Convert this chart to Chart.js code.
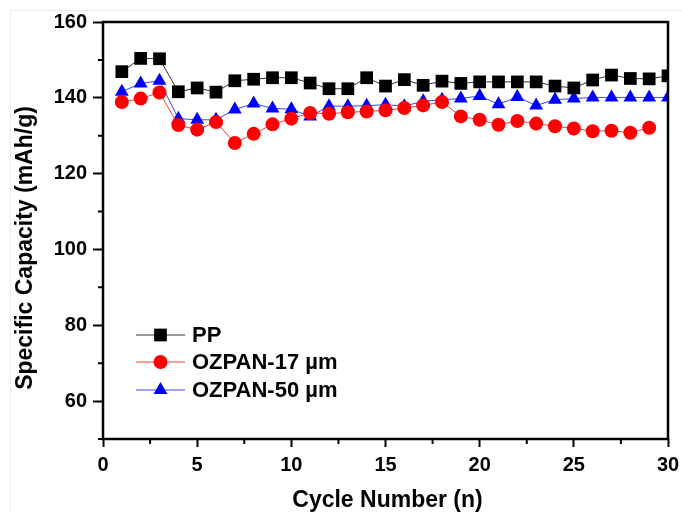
<!DOCTYPE html>
<html lang="en">
  <head>
    <meta charset="UTF-8" />
    <title>Specific Capacity vs Cycle Number</title>
    <script src="https://cdn.jsdelivr.net/npm/chart.js"></script>
    <style>
      html, body { margin: 0; padding: 0; background: #fff; }
      #wrap { position: relative; width: 682px; height: 512px; }
    </style>
  </head>
  <body>
    <div id="wrap"><canvas id="capChart" width="682" height="512"></canvas></div>

    <script>
      // cycle numbers 1..30
      const cycles = [1, 2, 3, 4, 5, 6, 7, 8, 9, 10, 11, 12, 13, 14, 15,
                      16, 17, 18, 19, 20, 21, 22, 23, 24, 25, 26, 27, 28, 29, 30];

      const ppValues = [146.9, 150.4, 150.3, 141.6, 142.6, 141.5, 144.5, 144.9, 145.3, 145.3,
                        143.9, 142.4, 142.4, 145.3, 143.1, 144.8, 143.3, 144.4, 143.8, 144.2,
                        144.2, 144.2, 144.2, 143.1, 142.6, 144.7, 146.0, 145.1, 145.0, 145.8];

      // 17 µm sample has no point at cycle 30
      const ozpan17Values = [138.9, 139.8, 141.4, 132.8, 131.6, 133.6, 128.1, 130.5, 133.0, 134.5,
                             136.0, 135.8, 136.2, 136.4, 136.7, 137.3, 138.0, 138.9, 135.1, 134.2,
                             132.9, 133.9, 133.2, 132.5, 131.9, 131.2, 131.3, 130.8, 132.1, null];

      const ozpan50Values = [141.6, 143.8, 144.5, 134.5, 134.2, 134.2, 136.9, 138.5, 137.2, 137.0,
                             135.1, 137.8, 137.8, 137.9, 138.2, 137.8, 139.1, 139.5, 139.8, 140.5,
                             138.3, 140.2, 138.0, 139.5, 139.8, 140.1, 140.1, 140.1, 140.1, 140.1];

      const seriesNames = ["PP", "OZPAN-17 \u00b5m", "OZPAN-50 \u00b5m"];
      const xTitle = "Cycle Number (n)";
      const yTitle = "Specific Capacity (mAh/g)";

      const FONT = "'Liberation Sans', Arial, sans-serif";

      function toPoints(values) {
        return values.map((v, i) => ({ x: cycles[i], y: v }));
      }

      const isMajorX = (v) => v % 5 === 0;
      const isMajorY = (v) => v % 20 === 0;

      // frame, box, minor ticks, axis titles and legend
      const framePlugin = {
        id: "frame",
        beforeDraw(chart) {
          const c = chart.ctx;
          c.save();
          c.fillStyle = "#fff";
          c.fillRect(0, 0, chart.width, chart.height);
          c.strokeStyle = "#ececec";
          c.lineWidth = 1;
          c.beginPath();
          c.moveTo(10.5, chart.height);
          c.lineTo(10.5, 10.5);
          c.lineTo(chart.width, 10.5);
          c.stroke();
          c.restore();
        },
        afterDraw(chart) {
          const c = chart.ctx;
          const a = chart.chartArea;
          const xs = chart.scales.x, ys = chart.scales.y;
          c.save();
          c.strokeStyle = "#000";
          c.lineWidth = 2.5;
          c.strokeRect(a.left, a.top, a.right - a.left, a.bottom - a.top);

          // short minor ticks
          c.lineWidth = 2;
          c.beginPath();
          xs.ticks.forEach((t) => {
            if (isMajorX(t.value)) return;
            const px = xs.getPixelForValue(t.value);
            c.moveTo(px, a.bottom);
            c.lineTo(px, a.bottom + 5);
          });
          ys.ticks.forEach((t) => {
            if (isMajorY(t.value)) return;
            const py = ys.getPixelForValue(t.value);
            c.moveTo(a.left, py);
            c.lineTo(a.left - 5, py);
          });
          c.stroke();

          // axis titles
          c.fillStyle = "#000";
          c.font = "bold 23px " + FONT;
          c.textAlign = "center";
          c.textBaseline = "middle";
          c.fillText(xTitle, (a.left + a.right) / 2 + 2, 501);
          c.save();
          c.translate(26, 248);
          c.rotate(-Math.PI / 2);
          c.fillText(yTitle, 0, 0);
          c.restore();

          // legend
          const x0 = 136, x1 = 185, tx = 192;
          const rows = [335, 362, 390];
          chart.data.datasets.forEach((ds, i) => {
            const y = rows[i];
            c.strokeStyle = ds.borderColor;
            c.lineWidth = 1;
            c.beginPath();
            c.moveTo(x0, y);
            c.lineTo(x1, y);
            c.stroke();
            c.fillStyle = ds.pointBackgroundColor;
            Chart.helpers.drawPoint(c, {
              pointStyle: ds.pointStyle,
              radius: ds.pointRadius,
              borderWidth: 0
            }, (x0 + x1) / 2, y);
            c.fillStyle = "#000";
            c.font = "bold 22px " + FONT;
            c.textBaseline = "middle";
            c.textAlign = "left";
            c.fillText(ds.label, tx, y + 1);
          });
          c.restore();
        }
      };

      const ctx = document.getElementById("capChart").getContext("2d");
      const capChart = new Chart(ctx, {
        type: "line",
        data: {
          datasets: [
            {
              label: seriesNames[0],
              data: toPoints(ppValues),
              borderColor: "#333333",
              backgroundColor: "#000000",
              pointBackgroundColor: "#000000",
              pointBorderColor: "#000000",
              pointStyle: "rect",
              pointRadius: 9,
              pointBorderWidth: 0,
              borderWidth: 1
            },
            {
              label: seriesNames[1],
              data: toPoints(ozpan17Values),
              borderColor: "#f04040",
              backgroundColor: "#ff0000",
              pointBackgroundColor: "#ff0000",
              pointBorderColor: "#ff0000",
              pointStyle: "circle",
              pointRadius: 7,
              pointBorderWidth: 0,
              borderWidth: 1
            },
            {
              label: seriesNames[2],
              data: toPoints(ozpan50Values),
              borderColor: "#4040ff",
              backgroundColor: "#0000ff",
              pointBackgroundColor: "#0000ff",
              pointBorderColor: "#0000ff",
              pointStyle: "triangle",
              pointRadius: 8,
              pointBorderWidth: 0,
              borderWidth: 1
            }
          ]
        },
        options: {
          responsive: false,
          animation: false,
          spanGaps: false,
          layout: { padding: { top: 22, right: 14, left: 0, bottom: 0 } },
          plugins: {
            legend: { display: false },
            tooltip: { enabled: false }
          },
          scales: {
            x: {
              type: "linear",
              min: 0,
              max: 30,
              afterFit(scale) {
                scale.height = 73;
                scale.paddingRight = 10;
              },
              ticks: {
                stepSize: 2.5,
                color: "#000",
                font: { family: FONT, size: 20, weight: "bold" },
                padding: 6,
                maxRotation: 0,
                autoSkip: false,
                callback: (v) => (isMajorX(v) ? v : "")
              },
              grid: {
                drawOnChartArea: false,
                tickLength: 8,
                tickWidth: 2,
                tickColor: (c) => (c.tick && isMajorX(c.tick.value) ? "#000" : "rgba(0,0,0,0)")
              },
              border: { display: false },
              title: { display: false }
            },
            y: {
              min: 50,
              max: 160,
              afterFit(scale) { scale.width = 103; },
              ticks: {
                stepSize: 10,
                color: "#000",
                font: { family: FONT, size: 20, weight: "bold" },
                padding: 6,
                autoSkip: false,
                callback: (v) => (isMajorY(v) ? v : "")
              },
              grid: {
                drawOnChartArea: false,
                tickLength: 10,
                tickWidth: 2,
                tickColor: (c) => (c.tick && isMajorY(c.tick.value) ? "#000" : "rgba(0,0,0,0)")
              },
              border: { display: false },
              title: { display: false }
            }
          }
        },
        plugins: [framePlugin]
      });
    </script>
  </body>
</html>
